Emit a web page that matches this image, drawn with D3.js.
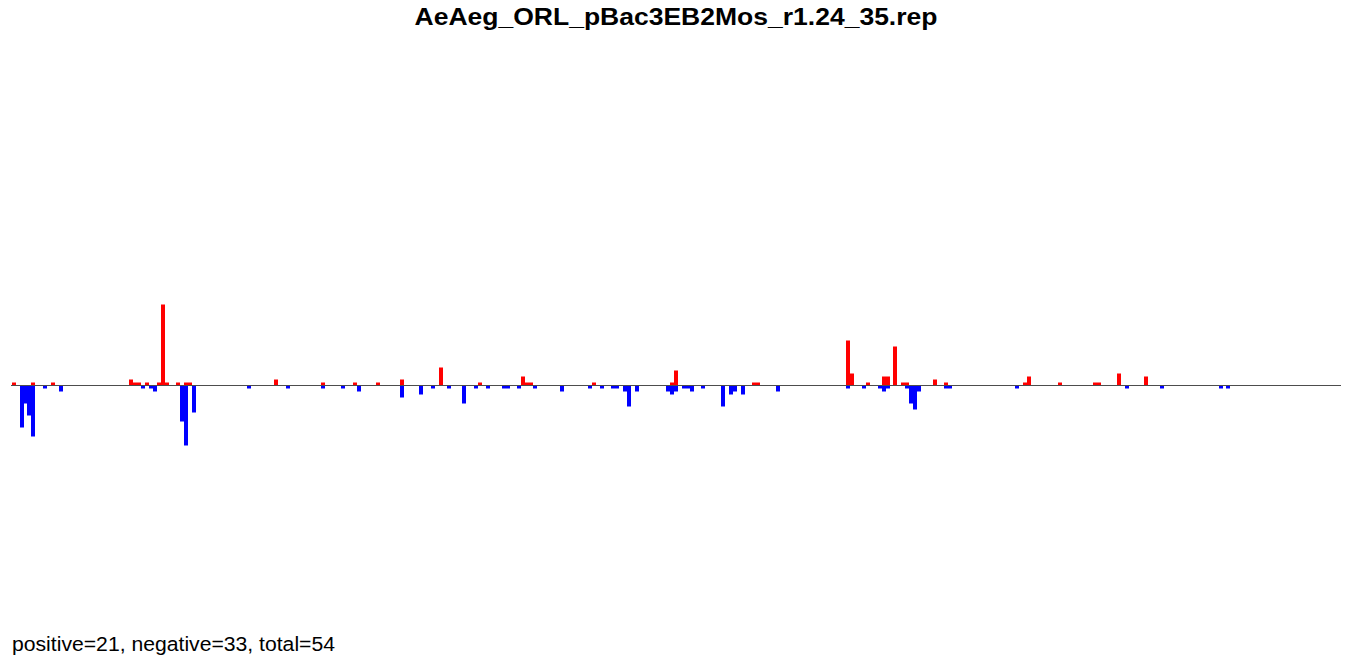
<!DOCTYPE html>
<html><head><meta charset="utf-8">
<script src="https://cdn.jsdelivr.net/npm/d3@7"></script>
<style>body{margin:0;background:#fff}svg{display:block}</style>
</head><body>
<script>
const title = "AeAeg_ORL_pBac3EB2Mos_r1.24_35.rep";
const footer = "positive=21, negative=33, total=54";
// positions along the sequence and counts
const posPositions = [3,22,42,120,124,128,136,148,152,156,167,175,179,265,312,344,367,391,430,469,512,516,520,583,661,665,743,747,837,841,857,873,877,884,892,896,924,935,1014,1018,1049,1084,1088,1108,1135];
const posValues    = [1,1,1,2,1,1,1,1,27,1,1,1,1,2,1,1,1,2,6,1,3,1,1,1,1,5,1,1,15,4,1,3,3,13,1,1,2,1,1,3,1,1,1,4,3];
const negPositions = [11,14.5,18,22,34,50,132,140,144,171,175,183,238,277,312,332,348,391,410,422,438,453,465,477,493,497,508,524,551,579,591,602,606,614,618,626,657,661,665,673,677,681,692,712,720,724,732,767,837,853,869,873,877,896,900,904,908,935,939,1006,1116,1151,1210,1217];
const negValues    = [14,6,10,17,1,2,1,1,2,12,20,9,1,1,1,1,2,4,3,1,1,6,1,1,1,1,1,1,2,1,1,1,1,2,7,2,2,3,2,1,1,2,1,7,3,2,3,2,1,1,1,2,1,1,6,8,2,1,1,1,1,1,1,1];
const seqLength = 1330;

const W = 1352, H = 661;
const svg = d3.select("body").append("svg").attr("width", W).attr("height", H);
const x = d3.scaleLinear().domain([0, seqLength]).range([11, 1341]);
const y = d3.scaleLinear().domain([-100, 100]).range([685.5, 85.5]);
const bw = 4;

const pos = posPositions.map((p,i)=>({p, v: posValues[i]}));
const neg = negPositions.map((p,i)=>({p, v: negValues[i]}));

svg.append("g").selectAll("rect").data(pos).join("rect")
  .attr("x", d => x(d.p) - bw/2).attr("width", bw)
  .attr("y", d => y(d.v)).attr("height", d => y(0) - y(d.v))
  .attr("fill", "#ff0000");
svg.append("g").selectAll("rect").data(neg).join("rect")
  .attr("x", d => x(d.p) - bw/2).attr("width", bw)
  .attr("y", y(0)).attr("height", d => y(-d.v) - y(0))
  .attr("fill", "#0000ff");

svg.append("line").attr("x1", x(0)).attr("x2", x(seqLength))
  .attr("y1", y(0)).attr("y2", y(0))
  .attr("stroke", "#4d4d4d").attr("stroke-width", 1);

svg.append("text").attr("x", 676).attr("y", 25).attr("text-anchor", "middle")
  .attr("font-family", "Liberation Sans, Arial, sans-serif").attr("font-weight", "bold")
  .attr("font-size", 23.5).attr("textLength", 523).attr("lengthAdjust", "spacingAndGlyphs")
  .text(title);
svg.append("text").attr("x", 12).attr("y", 650.5)
  .attr("font-family", "Liberation Sans, Arial, sans-serif")
  .attr("font-size", 20.5).attr("textLength", 323).attr("lengthAdjust", "spacingAndGlyphs")
  .text(footer);
</script>
</body></html>
